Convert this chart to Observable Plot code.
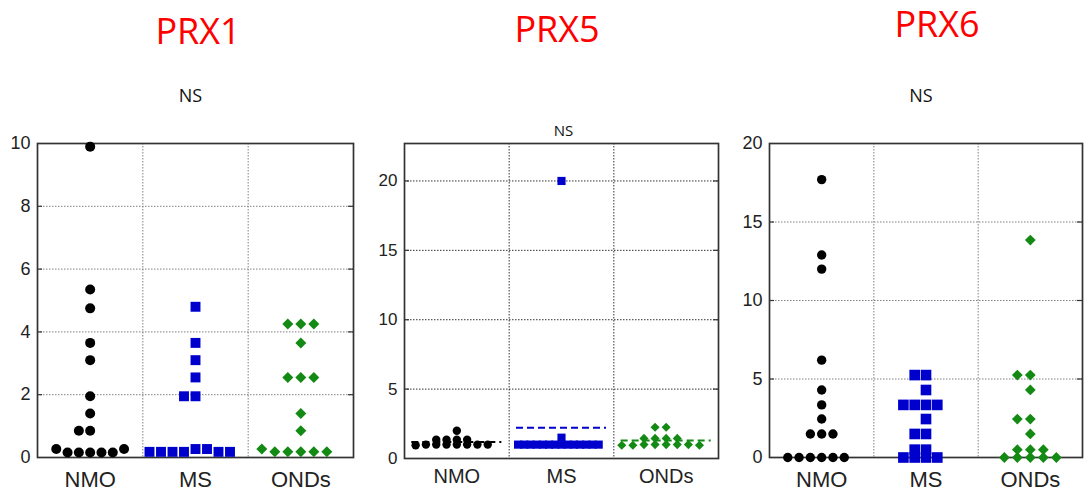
<!DOCTYPE html>
<html>
<head>
<meta charset="utf-8">
<script src="https://cdn.jsdelivr.net/npm/d3@7"></script>
<script src="https://cdn.jsdelivr.net/npm/@observablehq/plot@0.6"></script>
<style>
  body { margin: 0; background: #fff; }
  #wrap { position: relative; width: 1086px; height: 494px; overflow: hidden; background: #fff; }
  #wrap > svg { position: absolute; top: 0; }
</style>
</head>
<body>
<div id="wrap"></div>
<script>
// ---------- data ----------
const categories = ["NMO", "MS", "ONDs"];
const panelTitles = ["PRX1", "PRX5", "PRX6"];
const significance = ["NS", "NS", "NS"];

const prx1Ticks = [0, 2, 4, 6, 8, 10];
const prx5Ticks = [0, 5, 10, 15, 20];
const prx6Ticks = [0, 5, 10, 15, 20];

const prx1NMO  = [9.9, 5.35, 4.75, 3.65, 3.1, 1.95, 1.4, 0.85, 0.85, 0.27, 0.16, 0.16, 0.16, 0.16, 0.16, 0.27];
const prx1MS   = [4.8, 3.65, 3.1, 2.55, 1.95, 1.95, 0.18, 0.18, 0.18, 0.18, 0.27, 0.27, 0.18, 0.18];
const prx1ONDs = [4.25, 4.25, 4.25, 3.65, 2.55, 2.55, 2.55, 1.4, 0.85, 0.27, 0.18, 0.18, 0.18, 0.18, 0.18];

const prx5NMO  = [2.0, 1.35, 1.35, 1.35, 1.35, 0.95, 1.0, 1.0, 1.0, 1.0, 1.0, 1.0, 1.0];
const prx5MS   = [20.0, 1.5, 1.0, 1.0, 1.0, 1.0, 1.0, 1.0, 1.0, 1.0, 1.0, 1.0, 1.0, 1.0, 1.0, 1.0];
const prx5ONDs = [2.25, 2.25, 1.45, 1.45, 1.45, 1.45, 0.95, 0.95, 1.0, 1.0, 1.0, 1.0, 1.0, 0.95];

const prx6NMO  = [17.7, 12.9, 12.0, 6.2, 4.3, 3.35, 2.45, 1.5, 1.5, 1.5, 0, 0, 0, 0, 0, 0];
const prx6MS   = [5.25, 5.25, 4.3, 3.35, 3.35, 3.35, 3.35, 2.45, 1.5, 1.5, 0.5, 0, 0, 0, 0, 0.5];
const prx6ONDs = [13.85, 5.25, 5.25, 4.3, 2.45, 2.45, 1.5, 0.5, 0.5, 0.5, 0, 0, 0, 0, 0];

// ---------- styling / layout ----------
const groupColors  = ["#000000", "#0000cd", "#138a13"];
const groupSymbols = ["circle", "square", "diamond2"];
const axisFont = "'Liberation Sans', Arial, sans-serif";
const titleFont = "'Open Sans', 'Noto Sans', sans-serif";

const panels = [
  { left: 0, width: 362, ml: 37, mr: 9, mt: 143, mb: 37, yMax: 10, ticks: prx1Ticks,
    values: [prx1NMO, prx1MS, prx1ONDs], radii: [5, 5.6, 4.95], spacing: [11.3, 11.5, 13],
    rowTol: 0.2, tickFont: 18, catFont: 22, catPad: 14, means: false, grid: "#808080",
    titleDx: 2.5, titleDy: -99.7, nsDx: -5, nsDy: -41.3, nsFont: 18 },
  { left: 362, width: 362, ml: 42, mr: 6, mt: 143, mb: 36, yMax: 22.7, ticks: prx5Ticks,
    values: [prx5NMO, prx5MS, prx5ONDs], radii: [4.2, 4.6, 4.1], spacing: [10.3, 6.2, 11.1],
    rowTol: 0.2, tickFont: 17, catFont: 20, catPad: 10, means: true, grid: "#333333",
    titleDx: -4.5, titleDy: -101.3, nsDx: 2, nsDy: -8, nsFont: 15 },
  { left: 724, width: 362, ml: 45, mr: 4, mt: 143, mb: 37, yMax: 20, ticks: prx6Ticks,
    values: [prx6NMO, prx6MS, prx6ONDs], radii: [4.7, 6, 4.85], spacing: [11.3, 11.3, 13],
    rowTol: 0.3, tickFont: 18, catFont: 22, catPad: 14, means: false, grid: "#808080",
    titleDx: 11, titleDy: -107, nsDx: -5, nsDy: -42, nsFont: 18 }
];

function makePanel(cfg, pi) {
  const bandPx = (cfg.width - cfg.ml - cfg.mr) / 3;
  const marks = [];

  // grid lines (dotted)
  const inner = cfg.ticks.filter(t => t > 0 && t < cfg.yMax);
  marks.push(Plot.ruleY(inner, { stroke: cfg.grid, strokeWidth: 1, strokeDasharray: "1.5,1.5" }));
  marks.push(Plot.ruleX([0.5, 1.5], { stroke: cfg.grid, strokeWidth: 1, strokeDasharray: "1.5,1.5" }));
  // inward tick marks on both sides
  const tickLen = 5 / bandPx;
  marks.push(Plot.ruleY(inner, { x1: -0.5, x2: -0.5 + tickLen, stroke: "#333", strokeWidth: 1.2 }));
  marks.push(Plot.ruleY(inner, { x1: 2.5 - tickLen, x2: 2.5, stroke: "#333", strokeWidth: 1.2 }));
  marks.push(Plot.frame({ stroke: "#333", strokeWidth: 1.7 }));

  // column scatter layout: points of similar value share a row
  cfg.values.forEach((vals, ci) => {
    const order = vals.map((v, i) => i).sort((a, b) => vals[a] - vals[b] || a - b);
    const rows = [];
    let cur = null;
    for (const i of order) {
      if (!cur || vals[i] - cur.start > cfg.rowTol) { cur = { start: vals[i], items: [] }; rows.push(cur); }
      cur.items.push(i);
    }
    const pts = [];
    for (const row of rows) {
      row.items.sort((a, b) => a - b);
      const n = row.items.length;
      row.items.forEach((i, k) => {
        pts.push({ x: ci + (k - Math.floor(n / 2)) * cfg.spacing[ci] / bandPx, y: vals[i] });
      });
    }
    marks.push(Plot.dot(pts, { x: "x", y: "y", r: cfg.radii[ci], symbol: groupSymbols[ci], fill: groupColors[ci] }));
  });

  // mean lines (PRX5)
  if (cfg.means) {
    cfg.values.forEach((vals, ci) => {
      marks.push(Plot.ruleY([{ m: d3.mean(vals), c: ci }], {
        y: "m", x1: d => d.c - 0.43, x2: d => d.c + 0.43,
        stroke: groupColors[ci], strokeWidth: 2, strokeDasharray: "7,4"
      }));
    });
  }

  // axes
  marks.push(Plot.axisY({ ticks: cfg.ticks, tickSize: 0, tickPadding: 7, label: null,
    fontSize: cfg.tickFont, fontFamily: axisFont, fill: "#222" }));
  marks.push(Plot.axisX({ ticks: [0, 1, 2], tickFormat: i => categories[i], tickSize: 0,
    tickPadding: cfg.catPad, label: null, fontSize: cfg.catFont, fontFamily: axisFont, fill: "#222" }));

  // title and significance label
  marks.push(Plot.text([panelTitles[pi]], { text: d => d, frameAnchor: "top", lineAnchor: "bottom",
    dx: cfg.titleDx, dy: cfg.titleDy, fontSize: 36, fontFamily: titleFont, fill: "#ff0000" }));
  marks.push(Plot.text([significance[pi]], { text: d => d, frameAnchor: "top", lineAnchor: "bottom",
    dx: cfg.nsDx, dy: cfg.nsDy, fontSize: cfg.nsFont, fontFamily: titleFont, fill: "#111" }));

  const svg = Plot.plot({
    width: cfg.width, height: 494,
    marginLeft: cfg.ml, marginRight: cfg.mr, marginTop: cfg.mt, marginBottom: cfg.mb,
    x: { type: "linear", domain: [-0.5, 2.5] },
    y: { type: "linear", domain: [0, cfg.yMax] },
    style: { fontFamily: axisFont, background: "transparent", overflow: "visible" },
    marks
  });
  svg.style.left = cfg.left + "px";
  return svg;
}

const wrap = document.getElementById("wrap");
panels.forEach((cfg, pi) => wrap.appendChild(makePanel(cfg, pi)));
</script>
</body>
</html>
